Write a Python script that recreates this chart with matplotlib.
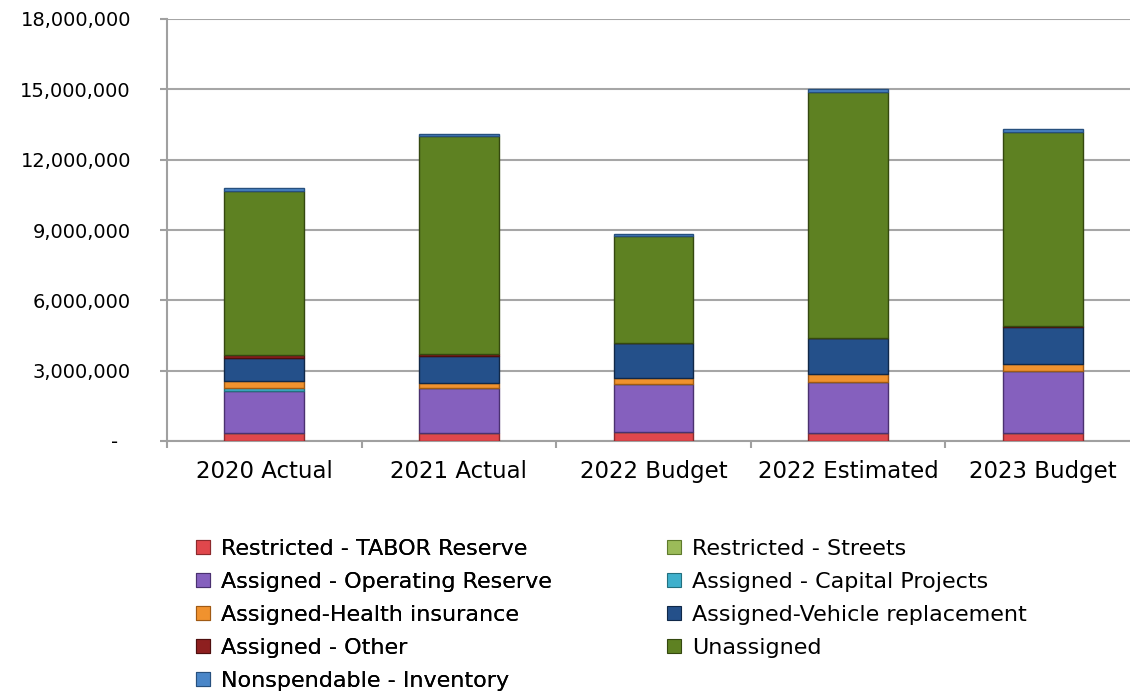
import matplotlib
matplotlib.use("Agg")
import matplotlib.pyplot as plt
from matplotlib.patches import Patch
import numpy as np

categories = ["2020 Actual", "2021 Actual", "2022 Budget", "2022 Estimated", "2023 Budget"]
tabor = [360000, 350000, 370000, 360000, 360000]
streets = [0, 0, 0, 0, 0]
op_reserve = [1790000, 1900000, 2040000, 2170000, 2610000]
capital = [110000, 0, 0, 0, 0]
health = [310000, 240000, 260000, 330000, 310000]
vehicle = [970000, 1140000, 1490000, 1540000, 1570000]
other = [140000, 70000, 0, 0, 50000]
unassigned = [7000000, 9300000, 4590000, 10500000, 8300000]
inventory = [100000, 100000, 100000, 100000, 100000]

series_names = ["Restricted - TABOR Reserve", "Restricted - Streets",
                "Assigned - Operating Reserve", "Assigned - Capital Projects",
                "Assigned-Health insurance", "Assigned-Vehicle replacement",
                "Assigned - Other", "Unassigned", "Nonspendable - Inventory"]
series_values = [tabor, streets, op_reserve, capital, health, vehicle, other, unassigned, inventory]
colors = ["#E0474C", "#9BBB59", "#8560BE", "#3FB0CC", "#F0922E", "#24508A",
          "#8E1F1F", "#5E8122", "#4A86C8"]
edges = ["#8C2A2D", "#5E7A2C", "#4A3170", "#23707F", "#A05A14", "#102848",
         "#4E0F0F", "#34480F", "#27507E"]
yticks = [0, 3000000, 6000000, 9000000, 12000000, 15000000, 18000000]
ytick_labels = ["-  ", "3,000,000", "6,000,000", "9,000,000", "12,000,000",
                "15,000,000", "18,000,000"]

plt.rcParams['font.family'] = ['DejaVu Sans']
fig = plt.figure(figsize=(11.3, 6.94), dpi=100)
L = 167 / 1130
R = 1140 / 1130
B = 1 - 441 / 694
T = 1 - 19 / 694
ax = fig.add_axes([L, B, R - L, T - B])

x = np.arange(len(categories))
bottom = np.zeros(len(categories))
handles = []
for name, vals, c, e in zip(series_names, series_values, colors, edges):
    vals = np.array(vals, dtype=float)
    ax.bar(x, vals, bottom=bottom, width=0.41, color=c, edgecolor=e,
           linewidth=1.0, zorder=3)
    bottom += vals
    handles.append(Patch(facecolor=c, edgecolor=e, linewidth=0.8, label=name))

ax.set_xlim(-0.5, len(categories) - 0.5)
ax.set_ylim(0, 18000000)
ax.set_yticks(yticks)
ax.set_yticklabels(ytick_labels, fontsize=14)
ax.set_xticks(x)
ax.set_xticklabels(categories, fontsize=16.5)
ax.set_xticks(np.arange(-0.5, len(categories) + 0.5, 1), minor=True)
ax.tick_params(axis='x', which='major', length=0, pad=13.5)
ax.tick_params(axis='x', which='minor', length=5, width=1.5, color='#A0A0A0')
ax.tick_params(axis='y', length=5, width=1.5, color='#A0A0A0', pad=21)
ax.yaxis.grid(True, color='#A6A6A6', linewidth=1.5, zorder=0)
ax.set_axisbelow(True)
for s in ['top', 'right']:
    ax.spines[s].set_visible(False)
for s in ['left', 'bottom']:
    ax.spines[s].set_color('#A0A0A0')
    ax.spines[s].set_linewidth(1.5)

order_left = [0, 2, 4, 6, 8]
order_right = [1, 3, 5, 7]
kw = dict(frameon=False, fontsize=16, handlelength=0.62, handleheight=0.62,
          handletextpad=0.5, labelspacing=0.58, borderpad=0, borderaxespad=0)
leg1 = fig.legend([handles[i] for i in order_left], [series_names[i] for i in order_left],
                  loc='upper left', bbox_to_anchor=(196 / 1130, 1 - 539 / 694), **kw)
fig.add_artist(leg1)
leg2 = fig.legend([handles[i] for i in order_right], [series_names[i] for i in order_right],
                  loc='upper left', bbox_to_anchor=(667 / 1130, 1 - 539 / 694), **kw)

fig.savefig("out.png", dpi=100)
